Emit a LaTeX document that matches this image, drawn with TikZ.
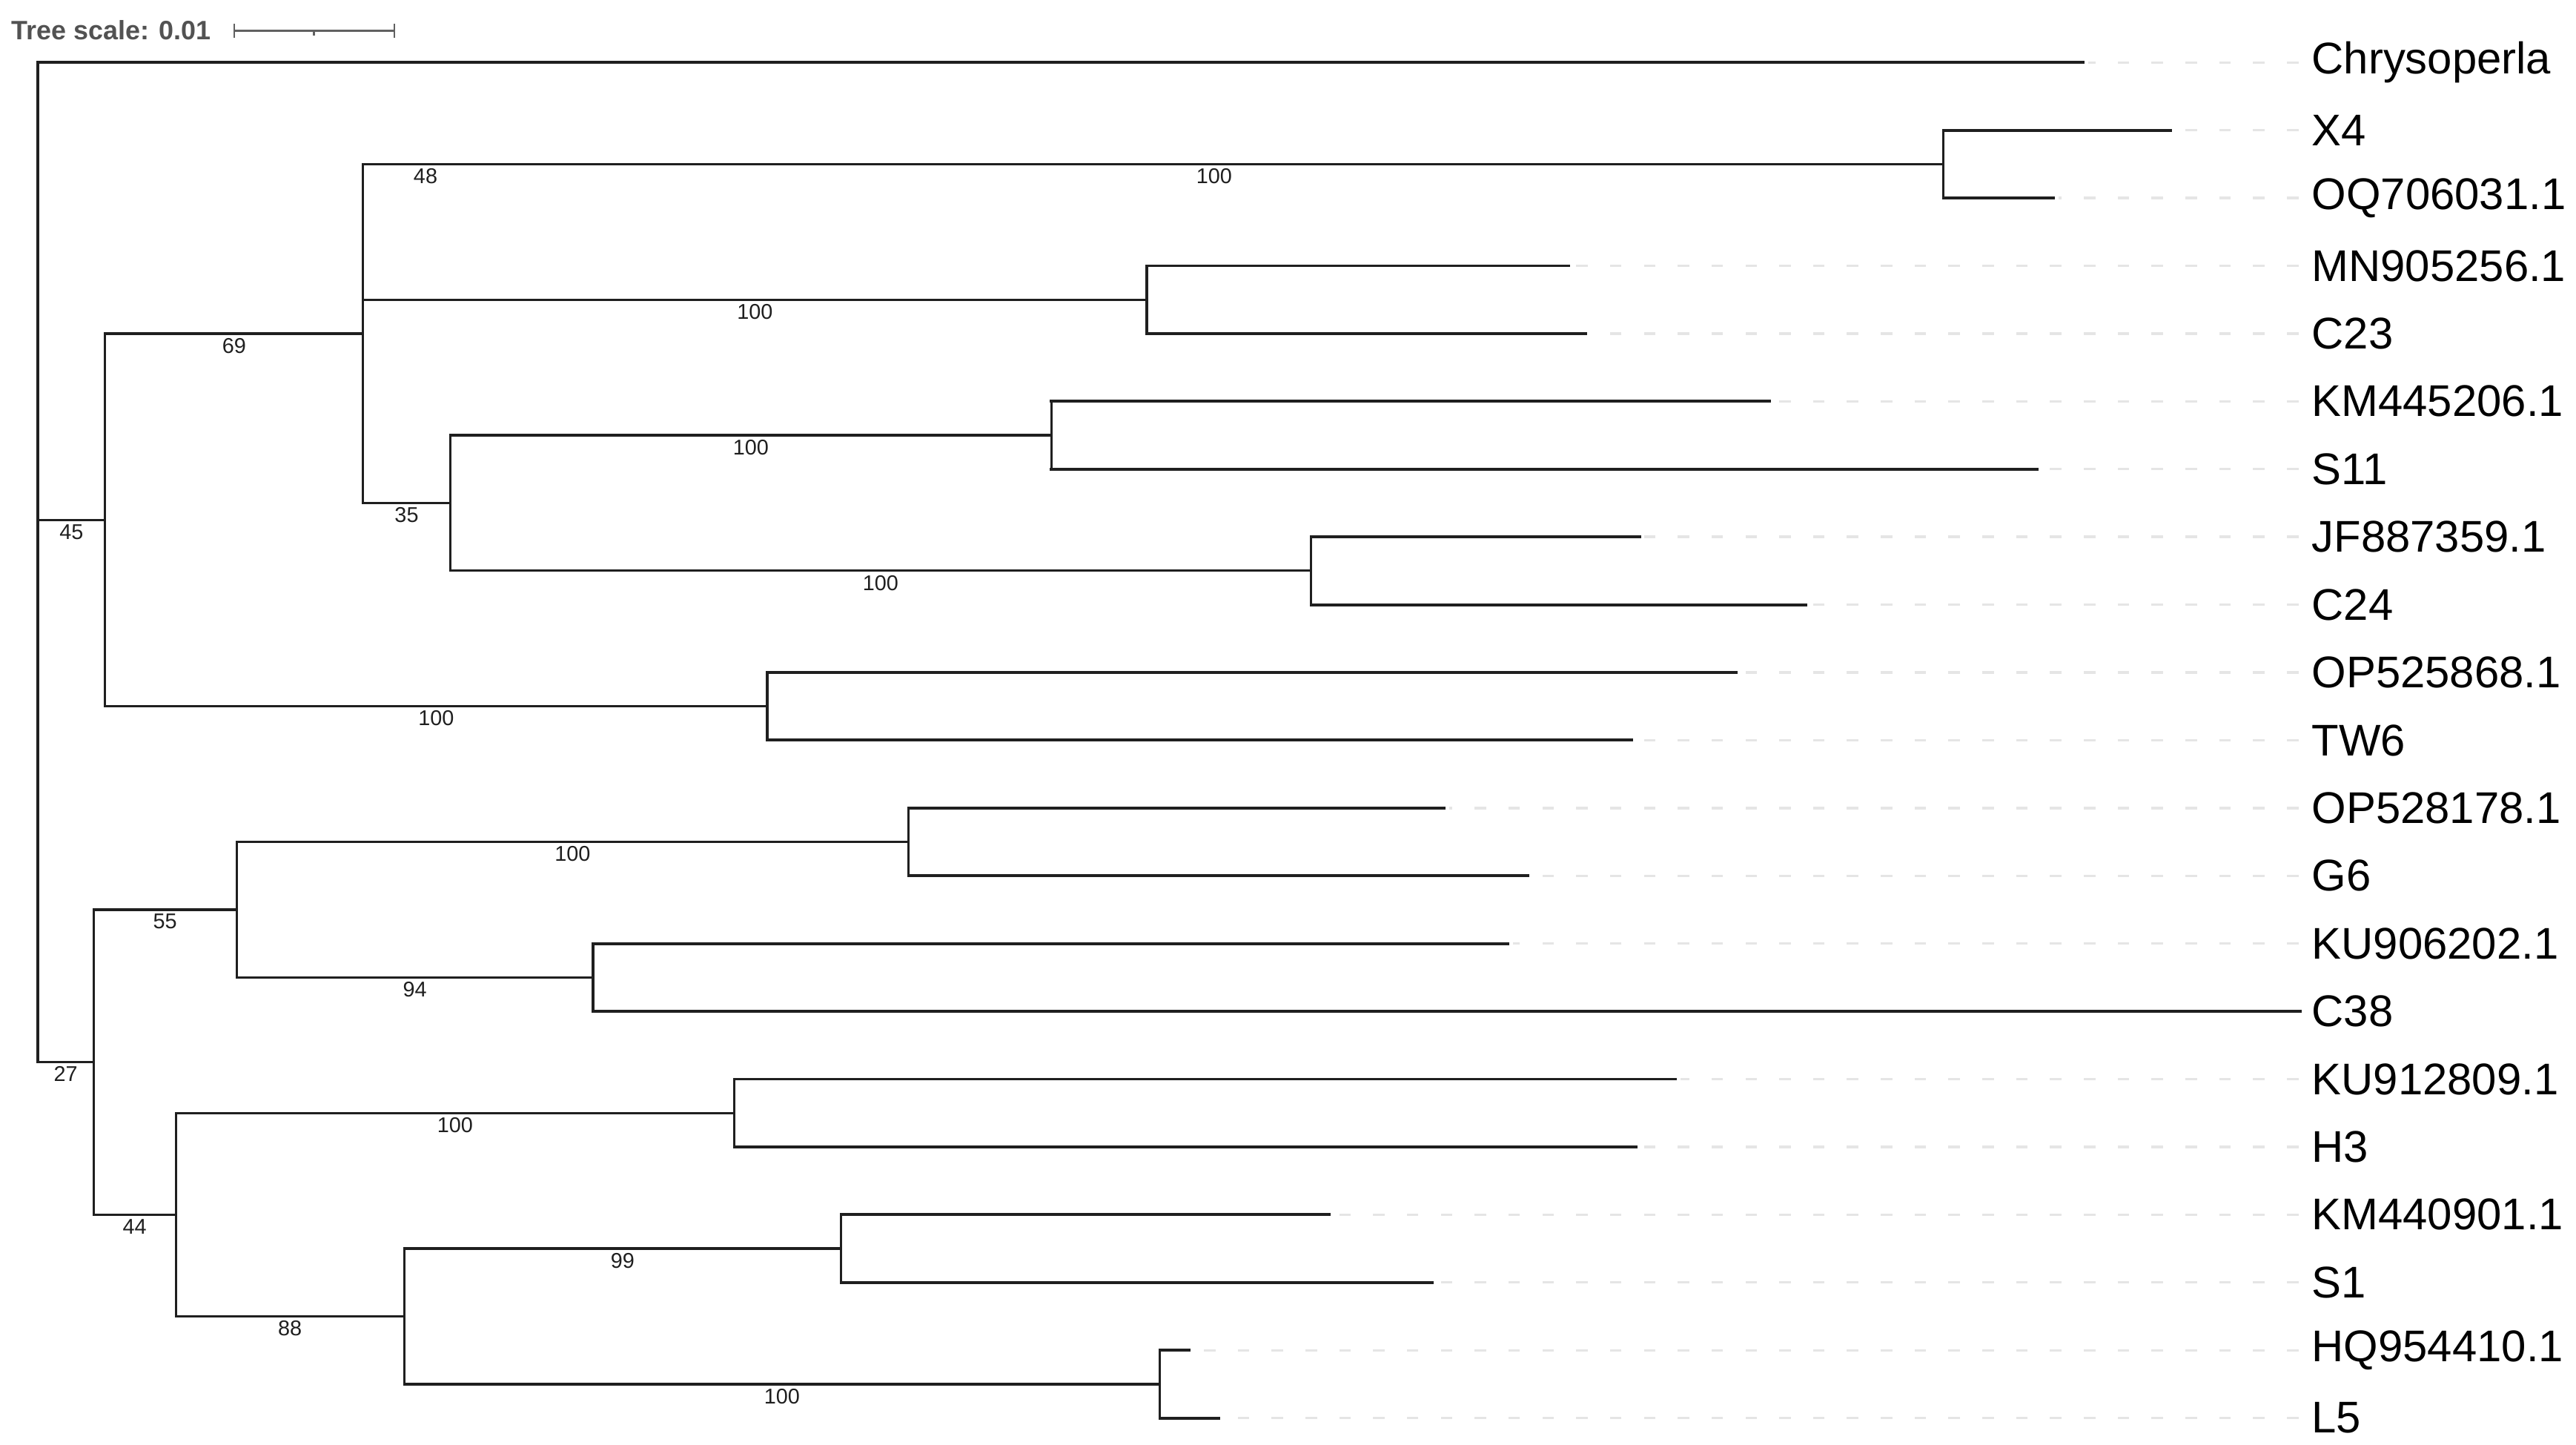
\documentclass[tikz,border=0pt]{standalone}
\usepackage{fontspec}
\setmainfont{Liberation Sans}
\begin{document}
\begin{tikzpicture}[x=1pt,y=-41.25pt,
  br/.style={line width=1.45pt, draw=black!88, line cap=rect},
  lf/.style={line width=1.75pt, draw=black!88, line cap=rect},
  dsh/.style={line width=1.5pt, draw=black!10, dash pattern=on 7pt off 13.6pt},
  leaf/.style={anchor=west, inner sep=0pt, font=\fontsize{27}{30}\selectfont},
  bs/.style={below=2pt, inner sep=0pt, font=\fontsize{13}{15}\selectfont, text=black!88},
  sbar/.style={line width=1.1pt, draw=black!62}
]
\useasboundingbox (0,-0.9212) rectangle (1568,20.3879);
% internal nodes
\coordinate (r) at (23,7.375);
\coordinate (A) at (64,6.75);
\coordinate (C) at (221,4);
\coordinate (E) at (1183,1.5);
\coordinate (F) at (698,3.5);
\coordinate (G) at (274,6.5);
\coordinate (H) at (640,5.5);
\coordinate (I) at (798,7.5);
\coordinate (J) at (467,9.5);
\coordinate (B) at (57,14.75);
\coordinate (K) at (144,12.5);
\coordinate (L) at (553,11.5);
\coordinate (M) at (361,13.5);
\coordinate (N) at (107,17);
\coordinate (O) at (447,15.5);
\coordinate (P) at (246,18.5);
\coordinate (Q) at (512,17.5);
\coordinate (R) at (706,19.5);
% leaf tips
\coordinate (t0) at (1268,0);
\coordinate (t1) at (1321,1);
\coordinate (t2) at (1250,2);
\coordinate (t3) at (955,3);
\coordinate (t4) at (965,4);
\coordinate (t5) at (1077,5);
\coordinate (t6) at (1240,6);
\coordinate (t7) at (998,7);
\coordinate (t8) at (1099,8);
\coordinate (t9) at (1057,9);
\coordinate (t10) at (993,10);
\coordinate (t11) at (879,11);
\coordinate (t12) at (930,12);
\coordinate (t13) at (918,13);
\coordinate (t14) at (1400,14);
\coordinate (t15) at (1020,15);
\coordinate (t16) at (996,16);
\coordinate (t17) at (809,17);
\coordinate (t18) at (872,18);
\coordinate (t19) at (724,19);
\coordinate (t20) at (742,20);
% leaf labels
\node[leaf] (l0) at (1407,0) {Chrysoperla};
\node[leaf] (l1) at (1407,1) {X4};
\node[leaf] (l2) at (1407,2) {OQ706031.1};
\node[leaf] (l3) at (1407,3) {MN905256.1};
\node[leaf] (l4) at (1407,4) {C23};
\node[leaf] (l5) at (1407,5) {KM445206.1};
\node[leaf] (l6) at (1407,6) {S11};
\node[leaf] (l7) at (1407,7) {JF887359.1};
\node[leaf] (l8) at (1407,8) {C24};
\node[leaf] (l9) at (1407,9) {OP525868.1};
\node[leaf] (l10) at (1407,10) {TW6};
\node[leaf] (l11) at (1407,11) {OP528178.1};
\node[leaf] (l12) at (1407,12) {G6};
\node[leaf] (l13) at (1407,13) {KU906202.1};
\node[leaf] (l14) at (1407,14) {C38};
\node[leaf] (l15) at (1407,15) {KU912809.1};
\node[leaf] (l16) at (1407,16) {H3};
\node[leaf] (l17) at (1407,17) {KM440901.1};
\node[leaf] (l18) at (1407,18) {S1};
\node[leaf] (l19) at (1407,19) {HQ954410.1};
\node[leaf] (l20) at (1407,20) {L5};
% dashed guides (drawn from the label side so the dashes line up)
\foreach \i in {0,...,13,15,16,17,18,19,20} {\draw[dsh] ([xshift=-8pt]l\i.west) -- ([xshift=3pt]t\i);}
% verticals
\draw[br] (r |- t0) -- (r |- B);
\draw[br] (A |- C) -- (A |- J);
\draw[br] (C |- E) -- (C |- G);
\draw[br] (E |- t1) -- (E |- t2);
\draw[br] (F |- t3) -- (F |- t4);
\draw[br] (G |- H) -- (G |- I);
\draw[br] (H |- t5) -- (H |- t6);
\draw[br] (I |- t7) -- (I |- t8);
\draw[br] (J |- t9) -- (J |- t10);
\draw[br] (B |- K) -- (B |- N);
\draw[br] (K |- L) -- (K |- M);
\draw[br] (L |- t11) -- (L |- t12);
\draw[br] (M |- t13) -- (M |- t14);
\draw[br] (N |- O) -- (N |- P);
\draw[br] (O |- t15) -- (O |- t16);
\draw[br] (P |- Q) -- (P |- R);
\draw[br] (Q |- t17) -- (Q |- t18);
\draw[br] (R |- t19) -- (R |- t20);
% internal branches with support values
\draw[br] (r |- A) -- node[bs]{45} (A);
\draw[br] (r |- B) -- node[bs]{27} (B);
\draw[br] (A |- C) -- node[bs]{69} (C);
\draw[br] (A |- J) -- node[bs]{100} (J);
\draw[br] (C |- E) -- node[bs,pos=0.0395]{48} node[bs,pos=0.5385]{100} (E);
\draw[br] (C |- F) -- node[bs]{100} (F);
\draw[br] (C |- G) -- node[bs]{35} (G);
\draw[br] (G |- H) -- node[bs]{100} (H);
\draw[br] (G |- I) -- node[bs]{100} (I);
\draw[br] (B |- K) -- node[bs]{55} (K);
\draw[br] (B |- N) -- node[bs]{44} (N);
\draw[br] (K |- L) -- node[bs]{100} (L);
\draw[br] (K |- M) -- node[bs]{94} (M);
\draw[br] (N |- O) -- node[bs]{100} (O);
\draw[br] (N |- P) -- node[bs]{88} (P);
\draw[br] (P |- Q) -- node[bs]{99} (Q);
\draw[br] (P |- R) -- node[bs]{100} (R);
% leaf branches
\draw[lf] (r |- t0) -- (t0);
\draw[lf] (E |- t1) -- (t1);
\draw[lf] (E |- t2) -- (t2);
\draw[lf] (F |- t3) -- (t3);
\draw[lf] (F |- t4) -- (t4);
\draw[lf] (H |- t5) -- (t5);
\draw[lf] (H |- t6) -- (t6);
\draw[lf] (I |- t7) -- (t7);
\draw[lf] (I |- t8) -- (t8);
\draw[lf] (J |- t9) -- (t9);
\draw[lf] (J |- t10) -- (t10);
\draw[lf] (L |- t11) -- (t11);
\draw[lf] (L |- t12) -- (t12);
\draw[lf] (M |- t13) -- (t13);
\draw[lf] (M |- t14) -- (t14);
\draw[lf] (O |- t15) -- (t15);
\draw[lf] (O |- t16) -- (t16);
\draw[lf] (Q |- t17) -- (t17);
\draw[lf] (Q |- t18) -- (t18);
\draw[lf] (R |- t19) -- (t19);
\draw[lf] (R |- t20) -- (t20);
% tree scale
\node[anchor=west, inner sep=0pt, font=\bfseries\fontsize{16.2}{18}\selectfont, text=black!68] (ts) at (7,-0.48) {Tree scale: 0.01};
\coordinate (sb1) at (142.5,-0.465);
\coordinate (sb2) at (240,-0.465);
\coordinate (sbm) at (191,-0.465);
\draw[sbar] (sb1) -- (sb2);
\draw[sbar] ([yshift=4.2pt]sb1) -- ([yshift=-4.2pt]sb1);
\draw[sbar] ([yshift=4.2pt]sb2) -- ([yshift=-4.2pt]sb2);
\draw[sbar] (sbm) -- ([yshift=-3pt]sbm);
\end{tikzpicture}
\end{document}
